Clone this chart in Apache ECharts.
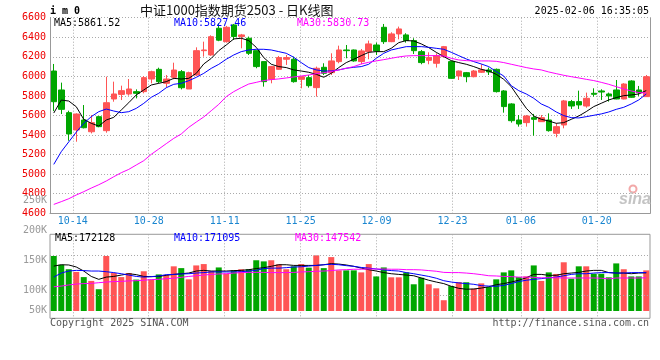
<!DOCTYPE html>
<html><head><meta charset="utf-8">
<script src="https://cdn.jsdelivr.net/npm/echarts/dist/echarts.min.js"></script>
<style>html,body{margin:0;padding:0;background:#fff}#c{width:660px;height:360px}</style>
</head><body><div id="c"></div>
<script>
// ---------- data ----------
const dates = [
'2024-10-09','2024-10-10','2024-10-11','2024-10-14','2024-10-15','2024-10-16','2024-10-17','2024-10-18','2024-10-21','2024-10-22',
'2024-10-23','2024-10-24','2024-10-25','2024-10-28','2024-10-29','2024-10-30','2024-10-31','2024-11-01','2024-11-04','2024-11-05',
'2024-11-06','2024-11-07','2024-11-08','2024-11-11','2024-11-12','2024-11-13','2024-11-14','2024-11-15','2024-11-18','2024-11-19',
'2024-11-20','2024-11-21','2024-11-22','2024-11-25','2024-11-26','2024-11-27','2024-11-28','2024-11-29','2024-12-02','2024-12-03',
'2024-12-04','2024-12-05','2024-12-06','2024-12-09','2024-12-10','2024-12-11','2024-12-12','2024-12-13','2024-12-16','2024-12-17',
'2024-12-18','2024-12-19','2024-12-20','2024-12-23','2024-12-24','2024-12-25','2024-12-26','2024-12-27','2024-12-30','2024-12-31',
'2025-01-02','2025-01-03','2025-01-06','2025-01-07','2025-01-08','2025-01-09','2025-01-10','2025-01-13','2025-01-14','2025-01-15',
'2025-01-16','2025-01-17','2025-01-20','2025-01-21','2025-01-22','2025-01-23','2025-01-24','2025-01-27','2025-02-05','2025-02-06'];

const opens = [6055,5861,5629,5452,5554,5434,5588,5445,5769,5816, 5820,5844,5844,5973,6072,5929,5990,6048,5871,6014,
6263,6219,6492,6355,6526,6407,6390,6263,6151,5970, 6072,6175,6175,5970,5987,5885,6093,6038,6151,6270,
6270,6151,6253,6321,6502,6355,6434,6424,6366,6253, 6164,6134,6202,6151,6004,6038,5997,6042,6066,6072,
5851,5718,5554,5527,5578,5537,5554,5418,5503,5742, 5742,5697,5827,5851,5820,5861,5769,5953,5861,5793];
const closes = [5741,5663,5411,5615,5475,5527,5486,5731,5820,5854, 5871,5827,5987,6048,5946,5973,6065,5884,6038,6263,
6270,6406,6370,6502,6407,6424,6236,6100,5946,6100, 6192,6192,5946,5997,5905,6083,6032,6158,6270,6263,
6158,6260,6332,6260,6355,6434,6485,6366,6263,6141, 6192,6212,6304,5980,6055,5997,6055,6066,6045,5844,
5691,5547,5513,5595,5561,5578,5445,5486,5749,5697, 5708,5776,5817,5840,5800,5769,5922,5786,5834,5997];
const lows = [5645,5615,5342,5332,5468,5417,5480,5424,5741,5758, 5803,5775,5827,5929,5929,5888,5970,5867,5871,6004,
6202,6210,6360,6345,6372,6287,6219,6083,5895,5929, 6066,6117,5936,5878,5885,5793,6014,6014,6134,6185,
6150,6124,6175,6219,6332,6350,6379,6345,6229,6124, 6124,6090,6195,5975,5963,5940,5990,6035,6014,5835,
5629,5527,5486,5486,5394,5537,5435,5377,5469,5667, 5667,5680,5793,5759,5742,5766,5765,5780,5800,5790];
const highs = [6127,5936,5649,5622,5707,5605,5595,5997,5946,5905, 5973,5867,6004,6058,6089,6014,6140,6065,6048,6297,
6355,6420,6543,6516,6536,6434,6407,6263,6151,6107, 6209,6219,6202,5997,6014,6100,6134,6236,6314,6321,
6275,6280,6366,6345,6536,6451,6509,6441,6390,6270, 6246,6236,6311,6160,6060,6045,6065,6124,6090,6080,
5860,5725,5605,5605,5616,5605,5622,5520,5759,5759, 5854,5834,5878,5868,5834,5963,5930,5960,5902,6014];

const ma5 = [5625,5758,5748,5690,5561,5520,5492,5554,5581,5656, 5731,5810,5861,5912,5929,5946,5980,5973,5980,6031,
6127,6184,6263,6321,6383,6390,6366,6297,6192,6124, 6100,6090,6066,6055,6042,6021,5991,6032,6090,6141,
6175,6212,6246,6253,6253,6287,6345,6366,6362,6332, 6294,6246,6202,6161,6141,6124,6100,6072,6055,6021,
5970,5895,5783,5674,5595,5561,5544,5520,5527,5561, 5595,5640,5691,5725,5759,5783,5803,5810,5820,5855];
const ma10 = [5100,5230,5330,5430,5520,5588,5639,5666,5646,5629, 5639,5673,5724,5786,5827,5884,5919,5929,5956,5990,
6031,6082,6123,6175,6219,6253,6270,6277,6277,6270, 6253,6236,6195,6141,6090,6066,6055,6055,6066,6083,
6093,6100,6124,6185,6236,6270,6287,6304,6304,6304, 6297,6287,6277,6246,6212,6178,6151,6127,6100,6049,
6004,5905,5854,5820,5776,5718,5684,5636,5599,5578, 5575,5588,5602,5616,5636,5663,5684,5718,5759,5820];
const ma30 = [4691,4719,4749,4787,4821,4858,4892,4930,4974,5015, 5049,5094,5138,5203,5257,5312,5366,5411,5479,5533,
5585,5649,5714,5793,5844,5885,5922,5939,5957,5967, 5974,5984,5994,6004,6014,6028,6038,6049,6066,6083,
6100,6127,6144,6158,6171,6185,6199,6209,6212,6212, 6212,6212,6209,6185,6168,6161,6158,6158,6158,6154,
6141,6124,6107,6090,6076,6066,6045,6028,6011,5997, 5984,5970,5957,5939,5919,5895,5871,5851,5834,5830];

// volume, in thousands of lots
const volumesK = [245,206,186,174,151,134,97,245,169,151, 169,140,177,140,163,159,199,191,141,203,
209,178,194,166,181,186,186,226,221,226, 208,186,199,209,193,248,191,240,181,181,
181,172,209,154,194,150,150,172,119,148, 119,101,48,111,129,128,99,123,107,141,
172,181,151,154,203,134,172,165,217,144, 199,199,166,166,150,212,186,154,154,181];
const volMa5 = [200,206,205,196,178,154,141,151,154,160, 166,162,154,153,154,159,163,166,169,178,
181,178,178,178,180,181,184,189,193,199, 206,206,203,203,203,203,206,211,209,205,
199,191,184,178,171,166,163,160,157,147, 137,129,122,110,101,97,98,102,108,117,
122,129,137,148,163,163,159,159,166,169, 172,178,181,181,171,169,169,166,169,170];
const volMa10 = [151,169,178,181,180,178,178,175,171,166, 160,154,151,153,156,162,163,165,166,169,
171,174,174,174,174,175,178,181,189,191, 191,193,196,197,200,203,206,208,206,202,
199,194,191,187,183,180,178,171,166,160, 154,146,135,129,125,122,119,113,111,110,
114,122,131,137,141,144,148,151,157,163, 166,166,169,171,171,169,169,171,171,171];
const volMa30 = [108,111,116,120,122,123,126,129,131,132, 134,135,137,140,141,144,146,150,154,157,
160,163,165,166,169,171,172,172,172,171, 171,171,172,174,175,177,178,180,183,184,
186,186,187,187,187,186,186,184,184,183, 180,177,172,171,171,169,166,162,157,156,
154,153,151,151,150,148,148,148,147,147, 147,147,147,146,143,147,147,147,147,148];

const xTickDates = ['2024-10-14','2024-10-28','2024-11-11','2024-11-25','2024-12-09','2024-12-23','2025-01-06','2025-01-20'];
const priceMin = 4600, priceMax = 6600, priceStep = 200;
const volTickLabels = ['250K','200K','150K','100K','50K'];
const volGridValuesK = [248, 70];
const priceMaText = ['MA5:5861.52','MA10:5827.46','MA30:5830.73'];
const volMaText = ['MA5:172128','MA10:171095','MA30:147542'];
const titleText = '中证1000指数期货2503 - 日K线图';
const codeText = 'i m 0';
const stampText = '2025-02-06 16:35:05';

// ---------- chart ----------
const UP = '#ff5555', DOWN = '#00a600';
const MONO = '"DejaVu Sans Mono", monospace';
const tickIdx = new Set(xTickDates.map(d => dates.indexOf(d)));
const tickFn = (i) => tickIdx.has(i);
const candleData = opens.map((o, i) => [o, closes[i], lows[i], highs[i]]);
const volData = volumesK.map((v, i) => ({ value: v, itemStyle: { color: closes[i] >= opens[i] ? UP : DOWN } }));
const gridLine = { color: '#aaa', type: [1, 2], width: 1 };

const chart = echarts.init(document.getElementById('c'), null, { renderer: 'canvas' });
const txt = (x, y, text, fill, align, font) => ({
  type: 'text', x: x, y: y, silent: true, z: 100,
  style: { text: text, fill: fill, font: font || ('10px ' + MONO), align: align || 'left', textAlign: align || 'left', verticalAlign: 'middle', textVerticalAlign: 'middle' }
});

chart.setOption({
  animation: false,
  backgroundColor: '#fff',
  grid: [
    { left: 50, top: 17.7, width: 600, height: 195.6, show: false },
    { left: 50, top: 234.3, width: 600, height: 84, show: true, borderColor: '#999', borderWidth: 1, backgroundColor: 'transparent' }
  ],
  xAxis: [
    { type: 'category', gridIndex: 0, position: 'bottom', data: dates, boundaryGap: true, show: false },
    { type: 'category', gridIndex: 0, position: 'bottom', data: dates, boundaryGap: false,
      axisLine: { show: true, onZero: false, lineStyle: { color: '#999', width: 1 } }, axisTick: { show: false },
      axisLabel: { interval: tickFn, formatter: (d) => d.slice(5), color: '#1a86d0', fontFamily: MONO, fontSize: 10, margin: 3 },
      splitLine: { show: true, interval: tickFn, lineStyle: gridLine } },
    { type: 'category', gridIndex: 1, position: 'bottom', data: dates, boundaryGap: true, show: false },
    { type: 'category', gridIndex: 1, position: 'bottom', data: dates, boundaryGap: false,
      axisLine: { show: false }, axisTick: { show: false }, axisLabel: { show: false },
      splitLine: { show: true, interval: tickFn, lineStyle: gridLine } }
  ],
  yAxis: [
    { type: 'value', gridIndex: 0, position: 'left', min: priceMin, max: priceMax, interval: priceStep,
      axisLine: { show: true, lineStyle: { color: '#999', width: 1 } }, axisTick: { show: false },
      axisLabel: { color: '#e00', fontFamily: MONO, fontSize: 10, margin: 4, padding: [0, 0, 4, 0], formatter: (v) => String(v) },
      splitLine: { show: true, lineStyle: gridLine } },
    { type: 'value', gridIndex: 0, position: 'right', min: priceMin, max: priceMax,
      axisLine: { show: true, lineStyle: { color: '#999', width: 1 } }, axisTick: { show: false },
      axisLabel: { show: false }, splitLine: { show: false } },
    { type: 'value', gridIndex: 1, position: 'left', min: -32.5, max: 341.6,
      axisLine: { show: false }, axisTick: { show: false }, axisLabel: { show: false }, splitLine: { show: false } }
  ],
  series: [
    { type: 'candlestick', xAxisIndex: 0, yAxisIndex: 0, data: candleData, barWidth: 6, z: 3,
      itemStyle: { color: UP, color0: DOWN, borderColor: UP, borderColor0: DOWN, borderWidth: 1 } },
    { type: 'line', xAxisIndex: 0, yAxisIndex: 0, data: ma5, symbol: 'none', z: 5, lineStyle: { color: '#000', width: 1 } },
    { type: 'line', xAxisIndex: 0, yAxisIndex: 0, data: ma10, symbol: 'none', z: 5, lineStyle: { color: '#0000ff', width: 1 } },
    { type: 'line', xAxisIndex: 0, yAxisIndex: 0, data: ma30, symbol: 'none', z: 5, lineStyle: { color: '#ff00ff', width: 1 } },
    { type: 'line', xAxisIndex: 2, yAxisIndex: 2, data: volumesK.map(() => '-'), symbol: 'none', z: 1, silent: true,
      markLine: { silent: true, symbol: 'none', label: { show: false }, lineStyle: gridLine, animation: false,
        data: volGridValuesK.map(v => ({ yAxis: v })) } },
    { type: 'bar', xAxisIndex: 2, yAxisIndex: 2, data: volData, barWidth: 6, z: 3 },
    { type: 'line', xAxisIndex: 2, yAxisIndex: 2, data: volMa5, symbol: 'none', z: 5, lineStyle: { color: '#000', width: 1 } },
    { type: 'line', xAxisIndex: 2, yAxisIndex: 2, data: volMa10, symbol: 'none', z: 5, lineStyle: { color: '#0000ff', width: 1 } },
    { type: 'line', xAxisIndex: 2, yAxisIndex: 2, data: volMa30, symbol: 'none', z: 5, lineStyle: { color: '#ff00ff', width: 1 } }
  ],
  graphic: [
    txt(50, 11, codeText, '#000', 'left', 'bold 10px ' + MONO),
    txt(140, 10, titleText, '#111', 'left', '13px "Noto Sans CJK SC"'),
    txt(649, 11.5, stampText, '#000', 'right'),
    txt(54, 23.3, priceMaText[0], '#000'),
    txt(174, 23.3, priceMaText[1], '#0000ff'),
    txt(297, 23.3, priceMaText[2], '#ff00ff'),
    txt(55, 238.5, volMaText[0], '#000'),
    txt(174, 238.5, volMaText[1], '#0000ff'),
    txt(295, 238.5, volMaText[2], '#ff00ff'),
    txt(47, 200, volTickLabels[0], '#999', 'right'),
    txt(47, 230, volTickLabels[1], '#999', 'right'),
    txt(47, 260, volTickLabels[2], '#999', 'right'),
    txt(47, 290, volTickLabels[3], '#999', 'right'),
    txt(47, 310, volTickLabels[4], '#999', 'right'),
    txt(50, 323.5, 'Copyright 2025 SINA.COM', '#555'),
    txt(649, 323.5, 'http://finance.sina.com.cn', '#555', 'right'),
    { type: 'circle', shape: { cx: 633, cy: 189, r: 3.5 }, silent: true, z: 1,
      style: { fill: 'none', stroke: '#f2a8a8', lineWidth: 2 } },
    txt(619, 200, 'sina', '#c4c4c4', 'left', 'italic bold 16px "Liberation Sans"')
  ]
});
</script>
</body></html>
